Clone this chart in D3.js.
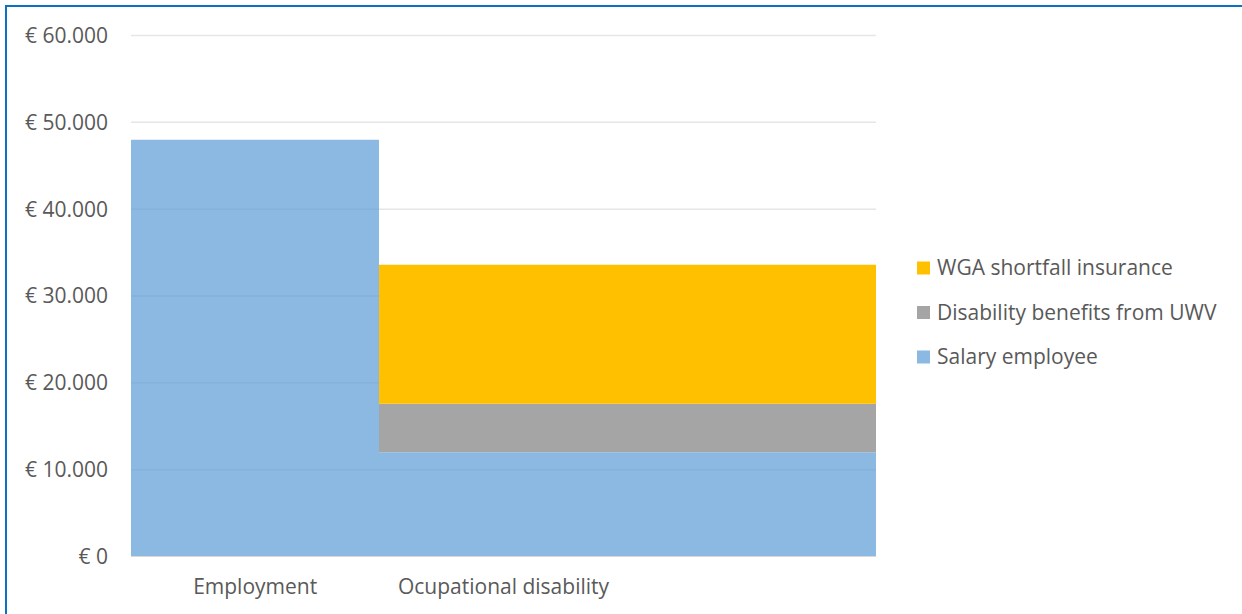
<!DOCTYPE html>
<html>
<head>
<meta charset="utf-8">
<script src="https://cdn.jsdelivr.net/npm/d3@7"></script>
<style>
  body { margin: 0; background: #fff; }
  svg { display: block; font-family: "Open Sans", "Liberation Sans", sans-serif; }
</style>
</head>
<body>
<svg id="chart" width="1242" height="614"></svg>
<script>

// chart data
const categories = [ "Employment", "Ocupational disability", "" ];
const salaryEmployee = [ 48000, 12000, 12000 ];
const uwvBenefits = [ 0, 5600, 5600 ];
const wgaInsurance = [ 0, 16000, 16000 ];
const yTicks = [ 0, 10000, 20000, 30000, 40000, 50000, 60000 ];

const seriesNames = [ "Salary employee", "Disability benefits from UWV", "WGA shortfall insurance" ];
const seriesColors = [ "#5B9BD5", "#A5A5A5", "#FFC000" ];
const seriesOpacity = [ 0.7, 1, 1 ];

const rows = categories.map( ( c, i ) => ( {
  cat: c,
  s0: salaryEmployee[ i ],
  s1: uwvBenefits[ i ],
  s2: wgaInsurance[ i ]
} ) );

const svg = d3.select( "#chart" );

const plotLeft = 131, plotRight = 876, plotTop = 35.5, plotBottom = 556.5;

const x = d3.scaleBand()
  .domain( categories )
  .range( [ plotLeft, plotRight ] )
  .padding( 0 );

const y = d3.scaleLinear()
  .domain( [ 0, 60000 ] )
  .range( [ plotBottom, plotTop ] );

const nl = d3.formatLocale( { decimal: ",", thousands: ".", grouping: [ 3 ], currency: [ "€ ", "" ] } );
const fmt = nl.format( "$,.0f" );

// outer frame (only top and left visible)
svg.append( "rect" )
  .attr( "x", 6 )
  .attr( "y", 6 )
  .attr( "width", 1300 )
  .attr( "height", 700 )
  .attr( "fill", "none" )
  .attr( "stroke", "#0a72c4" )
  .attr( "stroke-width", 2 );

// gridlines
svg.selectAll( "line.grid" )
  .data( yTicks.filter( d => d > 0 ) )
  .enter().append( "line" )
    .attr( "class", "grid" )
    .attr( "x1", plotLeft )
    .attr( "x2", plotRight )
    .attr( "y1", d => y( d ) )
    .attr( "y2", d => y( d ) )
    .attr( "stroke", "#e6e6e6" )
    .attr( "stroke-width", 1.5 );

// stacked bars, one path per layer so the transparent blue has no seams
const stack = d3.stack().keys( [ "s0", "s1", "s2" ] );
const layers = stack( rows );

function layerPath( layer ) {
  return layer
    .filter( p => p[ 1 ] > p[ 0 ] )
    .map( p => {
      const x0 = Math.round( x( p.data.cat ) ), x1 = Math.round( x( p.data.cat ) + x.bandwidth() );
      const y0 = y( p[ 0 ] ), y1 = y( p[ 1 ] );
      return "M" + x0 + "," + y1 + "H" + x1 + "V" + y0 + "H" + x0 + "Z";
    } ).join( "" );
}

svg.selectAll( "path.layer" )
  .data( layers )
  .enter().append( "path" )
    .attr( "class", "layer" )
    .attr( "fill", ( d, i ) => seriesColors[ i ] )
    .attr( "fill-opacity", ( d, i ) => seriesOpacity[ i ] )
    .attr( "fill-rule", "nonzero" )
    .attr( "d", layerPath );

// baseline
svg.append( "line" )
  .attr( "x1", plotLeft )
  .attr( "x2", plotRight )
  .attr( "y1", plotBottom )
  .attr( "y2", plotBottom )
  .attr( "stroke", "#d9d9d9" )
  .attr( "stroke-width", 1 );

// y axis labels
svg.selectAll( "text.ytick" )
  .data( yTicks )
  .enter().append( "text" )
    .attr( "class", "ytick" )
    .attr( "x", 108 )
    .attr( "y", d => y( d ) )
    .attr( "dy", "0.35em" )
    .attr( "text-anchor", "end" )
    .attr( "fill", "#595959" )
    .style( "font-size", "21px" )
    .text( d => fmt( d ) );

// category labels
svg.selectAll( "text.xtick" )
  .data( categories )
  .enter().append( "text" )
    .attr( "class", "xtick" )
    .attr( "x", d => x( d ) + x.bandwidth() / 2 )
    .attr( "y", 587 )
    .attr( "dy", "0.35em" )
    .attr( "text-anchor", "middle" )
    .attr( "fill", "#595959" )
    .style( "font-size", "21px" )
    .text( d => d );

// legend (top entry is the top of the stack)
const legendOrder = [ 2, 1, 0 ];

const legend = svg.selectAll( "g.legend" )
  .data( legendOrder )
  .enter().append( "g" )
    .attr( "class", "legend" )
    .attr( "transform", ( d, i ) => "translate(917," + ( 268 + i * 44.5 ) + ")" );

legend.append( "rect" )
  .attr( "x", 0 )
  .attr( "y", -6.5 )
  .attr( "width", 13 )
  .attr( "height", 13 )
  .attr( "fill", d => seriesColors[ d ] )
  .attr( "fill-opacity", d => seriesOpacity[ d ] );

legend.append( "text" )
  .attr( "x", 20 )
  .attr( "y", 0 )
  .attr( "dy", "0.35em" )
  .attr( "fill", "#595959" )
  .style( "font-size", "21px" )
  .text( d => seriesNames[ d ] );

</script>
</body>
</html>
